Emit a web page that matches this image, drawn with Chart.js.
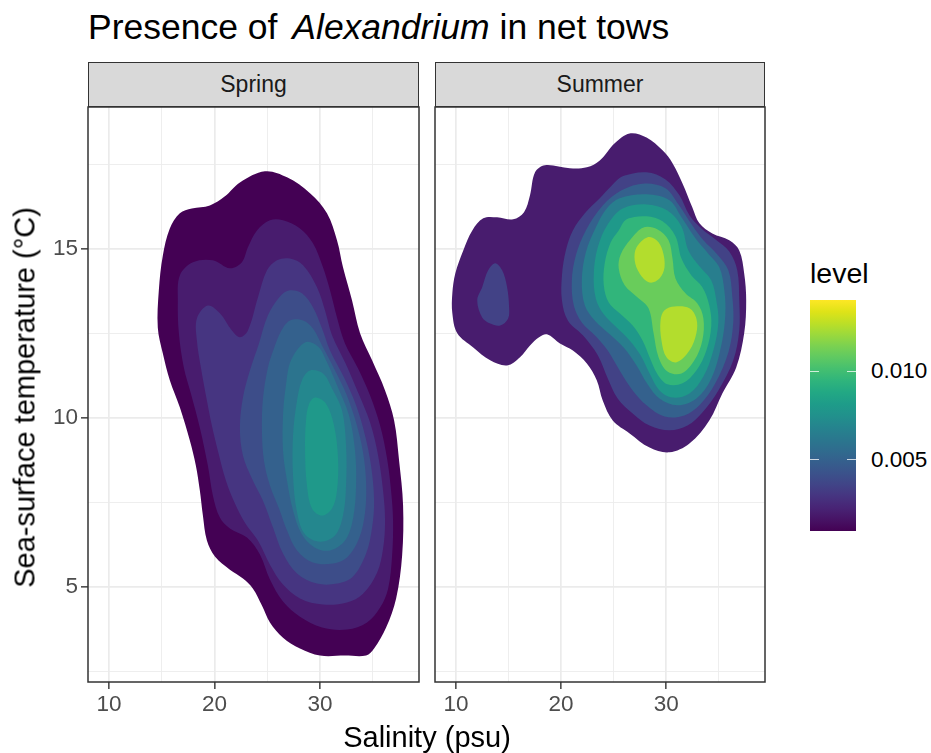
<!DOCTYPE html>
<html><head><meta charset="utf-8">
<script src="https://cdn.jsdelivr.net/npm/chart.js@4.4.1/dist/chart.umd.min.js"></script>
<style>
html,body{margin:0;padding:0;background:#fff;}
body{width:931px;height:753px;position:relative;overflow:hidden;font-family:"Liberation Sans",Arial,sans-serif;}
.abs{position:absolute;white-space:nowrap;}
.strip{position:absolute;top:62px;height:45px;background:#d9d9d9;border:1.5px solid #333;box-sizing:border-box;display:flex;align-items:center;justify-content:center;font-size:23px;color:#1a1a1a;}
</style></head><body>
<div class="abs" style="left:88px;top:9.9px;font-size:35.5px;line-height:35.5px;color:#000;">Presence of <i style="margin-left:5px">Alexandrium</i> in net tows</div>
<div class="strip" id="strip1" style="left:88px;width:331px;"></div>
<div class="strip" id="strip2" style="left:435px;width:330px;"></div>
<div class="abs" style="left:0;top:100px;width:430px;height:653px;"><canvas id="c1" width="430" height="653"></canvas></div>
<div class="abs" style="left:430px;top:100px;width:346px;height:653px;"><canvas id="c2" width="346" height="653"></canvas></div>
<div class="abs" style="left:-225px;top:383px;width:500px;text-align:center;font-size:29px;line-height:29px;color:#000;transform:rotate(-90deg);">Sea-surface temperature (°C)</div>
<div class="abs" style="left:177px;top:722.5px;width:500px;text-align:center;font-size:29px;line-height:29px;color:#000;">Salinity (psu)</div>
<div id="legend"></div>
<script>
// ---------------- data ----------------
const panelNames = ['Spring', 'Summer'];
const salinityGrid = [10, 15, 20, 25, 30, 35];
const salinityLabels = [10, 20, 30];
const tempGrid = [2.5, 5, 7.5, 10, 12.5, 15, 17.5];
const tempLabels = [5, 10, 15];
const legendTicks = [0.005, 0.010];
const legendTickText = ['0.005', '0.010'];
const LEGEND_MIN = 0.001, LEGEND_MAX = 0.014;

const springLevels = [0.001, 0.002, 0.003, 0.004, 0.005, 0.006, 0.007, 0.008];
const springContour1 = [[24.79,17.30],[26.88,17.12],[29.06,16.65],[30.67,16.06],[31.62,15.26],[32.19,14.46],[33.05,13.48],[33.81,12.51],[34.95,11.71],[36.18,10.82],[37.04,9.93],[37.51,8.75],[37.89,7.42],[37.80,5.94],[37.23,4.67],[36.28,3.81],[35.14,3.19],[34.38,2.98],[32.38,2.98],[30.01,2.98],[28.11,3.19],[26.50,3.51],[25.26,3.96],[24.50,4.46],[23.65,4.96],[22.70,5.26],[21.46,5.52],[20.04,5.91],[19.28,6.38],[18.90,7.12],[18.61,7.86],[18.23,8.60],[17.66,9.34],[16.71,10.32],[15.76,11.12],[15.10,11.91],[14.62,12.68],[14.72,13.78],[15.10,14.81],[15.76,15.61],[16.71,16.06],[17.85,16.20],[19.56,16.29],[20.99,16.56],[22.41,16.97]];
const springContour2 = [[16.71,14.22],[17.95,14.61],[19.85,14.67],[21.46,14.43],[22.60,14.61],[23.17,15.05],[24.03,15.55],[25.26,15.85],[26.50,15.85],[28.11,15.61],[29.34,15.17],[30.29,14.46],[30.96,13.78],[31.62,12.98],[32.38,12.21],[33.62,11.47],[34.76,10.67],[35.71,9.78],[36.37,8.81],[36.75,7.86],[36.94,6.97],[36.85,5.94],[36.47,4.96],[35.71,4.40],[34.47,3.96],[32.57,3.75],[30.20,3.81],[28.11,4.13],[26.50,4.58],[25.26,5.23],[24.31,5.97],[23.08,6.47],[21.46,6.74],[20.51,7.06],[19.85,7.71],[19.37,8.60],[18.61,9.72],[17.76,10.73],[17.09,11.50],[16.62,12.51],[16.52,13.48]];
const springContour3 = [[18.33,12.95],[19.37,13.33],[20.51,13.10],[21.65,12.59],[22.41,12.39],[23.17,12.59],[24.12,13.57],[24.98,14.37],[25.93,14.67],[27.16,14.72],[28.40,14.52],[29.72,13.87],[30.48,13.19],[31.15,12.45],[32.38,11.65],[33.62,10.76],[34.76,9.87],[35.52,8.90],[35.99,7.86],[36.18,6.97],[35.99,6.14],[35.42,5.43],[34.09,4.81],[32.57,4.55],[30.29,4.49],[28.11,4.67],[26.50,5.08],[25.26,5.67],[24.12,6.38],[22.89,6.91],[21.94,7.48],[21.08,8.16],[20.32,9.04],[19.75,9.78],[19.28,10.52],[18.71,11.50],[18.33,12.30]];
const springContour4 = [[26.21,13.60],[27.16,13.78],[28.30,13.69],[29.34,13.28],[30.20,12.65],[30.96,12.00],[32.29,11.20],[33.43,10.38],[34.28,9.49],[34.85,8.60],[35.14,7.56],[34.95,6.77],[34.38,6.00],[33.14,5.32],[31.62,5.11],[29.72,5.11],[27.83,5.41],[26.50,6.00],[25.55,6.77],[24.60,7.56],[23.55,8.22],[22.70,8.90],[22.41,9.72],[22.70,10.61],[23.36,11.41],[24.22,12.21],[25.07,13.04]];
const springContour5 = [[27.16,12.89],[28.40,12.89],[29.34,12.65],[30.20,12.15],[31.34,11.47],[32.48,10.73],[33.43,9.87],[34.09,8.99],[34.38,8.10],[34.28,7.21],[33.71,6.44],[32.57,5.88],[31.24,5.70],[29.34,5.73],[27.83,6.09],[26.88,6.68],[26.12,7.33],[25.26,8.01],[24.69,8.75],[24.50,9.64],[24.60,10.58],[25.07,11.50],[25.64,12.06],[26.31,12.57]];
const springContour6 = [[28.59,12.24],[29.82,12.12],[30.67,11.65],[31.62,10.97],[32.76,10.08],[33.33,9.04],[33.43,8.01],[33.14,7.03],[32.38,6.38],[30.96,6.09],[29.53,6.17],[28.30,6.56],[27.45,7.27],[26.88,8.16],[26.50,9.04],[26.50,10.08],[26.78,10.97],[27.26,11.71]];
const springContour7 = [[29.06,11.41],[30.29,11.32],[31.15,10.88],[32.10,10.23],[32.48,9.19],[32.48,8.01],[32.19,7.12],[31.43,6.53],[30.01,6.35],[28.59,6.56],[27.83,7.21],[27.45,8.30],[27.45,9.49],[27.83,10.52],[28.30,11.12]];
const springContour8 = [[29.53,10.61],[30.58,10.43],[31.34,9.78],[31.72,8.81],[31.62,7.86],[31.15,7.33],[30.20,7.12],[29.25,7.33],[28.77,8.01],[28.59,9.04],[28.68,9.93],[28.96,10.41]];

const summerLevels = [0.002, 0.0035, 0.005, 0.0065, 0.008, 0.0095, 0.011, 0.0125];
const summerContour1 = [[26.52,18.42],[28.13,18.30],[29.65,17.92],[30.60,17.54],[31.55,16.94],[32.49,16.23],[33.16,15.76],[34.39,15.46],[36.00,15.26],[36.95,14.96],[37.42,14.28],[37.61,13.48],[37.42,12.51],[36.66,11.50],[35.34,10.73],[34.10,9.93],[32.21,9.25],[30.31,8.99],[28.42,9.13],[26.52,9.55],[24.91,9.93],[23.96,10.52],[23.39,11.12],[22.45,11.62],[21.12,12.00],[19.89,12.21],[18.65,12.48],[17.90,12.39],[17.04,12.15],[16.09,11.80],[14.86,11.56],[13.25,11.71],[11.64,12.09],[10.12,12.51],[9.65,13.10],[9.65,13.69],[9.93,14.28],[10.69,14.96],[11.55,15.55],[12.59,15.91],[13.91,15.94],[15.43,15.88],[16.47,16.09],[17.04,16.59],[17.52,17.27],[18.46,17.48],[20.83,17.39],[22.45,17.42],[23.68,17.62],[25.10,18.13]];
const summerContour2 = [[25.86,17.15],[28.13,17.27],[29.93,17.06],[31.26,16.59],[32.21,16.00],[33.35,15.61],[34.67,15.29],[36.00,14.93],[36.76,14.37],[36.95,13.48],[36.95,12.59],[36.38,11.71],[34.96,10.82],[33.44,10.17],[32.02,9.78],[30.31,9.64],[28.42,9.78],[26.81,10.14],[25.38,10.58],[24.44,11.17],[23.49,11.86],[22.07,12.45],[20.64,12.89],[20.08,13.48],[20.08,14.22],[20.45,14.96],[21.12,15.55],[22.26,16.06],[23.68,16.50],[24.82,16.88]];
const summerContour2b = [[13.73,14.58],[14.39,14.37],[14.86,13.87],[15.05,13.28],[14.96,12.95],[14.20,12.74],[13.25,12.80],[12.49,12.98],[12.02,13.48],[12.49,13.87],[13.06,14.37]];
const summerContour3 = [[25.76,16.74],[27.94,16.94],[29.93,16.80],[31.17,16.32],[32.49,15.70],[33.54,15.26],[34.86,14.84],[35.91,14.37],[36.28,13.63],[36.38,12.83],[35.91,11.94],[34.67,11.03],[33.25,10.41],[31.73,10.08],[29.84,10.05],[28.13,10.38],[26.81,10.82],[25.57,11.41],[24.44,12.00],[23.30,12.42],[21.97,12.83],[21.21,13.33],[21.02,14.07],[21.40,14.81],[22.35,15.55],[23.96,16.29]];
const summerContour4 = [[25.57,16.50],[28.13,16.62],[30.31,16.44],[31.45,15.94],[32.78,15.32],[33.91,14.90],[35.05,14.46],[35.53,13.78],[35.62,13.04],[35.24,12.15],[34.29,11.17],[32.87,10.58],[31.07,10.38],[29.36,10.58],[28.23,11.00],[27.18,11.56],[25.95,12.09],[24.63,12.48],[23.20,12.89],[22.26,13.33],[21.97,14.07],[22.35,14.90],[23.30,15.64],[24.34,16.20]];
const summerContour5 = [[25.86,16.20],[28.13,16.32],[30.12,16.14],[31.45,15.67],[32.11,14.96],[33.16,14.49],[34.29,14.07],[34.77,13.48],[34.96,12.83],[34.48,12.00],[33.54,11.23],[32.21,10.73],[30.60,10.61],[29.36,10.82],[28.42,11.32],[27.56,11.86],[26.52,12.30],[25.29,12.68],[24.06,13.07],[23.30,13.54],[23.11,14.28],[23.49,15.05],[24.44,15.73]];
const summerContour6 = [[26.24,15.88],[28.13,15.97],[29.65,15.82],[30.88,15.38],[31.45,14.72],[32.40,14.22],[33.44,13.87],[34.10,13.33],[34.29,12.74],[33.82,12.00],[32.87,11.41],[31.55,11.03],[30.12,11.00],[29.18,11.29],[28.42,11.80],[27.75,12.30],[26.81,12.74],[25.57,13.10],[24.53,13.42],[24.06,13.93],[24.15,14.58],[24.72,15.20],[25.48,15.55]];
const summerContour7 = [[27.85,15.64],[29.18,15.58],[30.22,15.26],[30.60,14.72],[30.88,14.13],[31.83,13.69],[32.97,13.39],[33.54,12.95],[33.44,12.30],[32.68,11.71],[31.45,11.32],[30.12,11.38],[29.27,11.80],[28.80,12.51],[28.32,13.25],[27.28,13.57],[26.05,13.93],[25.48,14.43],[25.67,14.84],[26.62,15.29]];
const summerContour8a = [[28.23,15.35],[29.08,15.26],[29.65,14.96],[29.84,14.46],[29.36,14.13],[28.42,14.01],[27.47,14.28],[27.00,14.67],[27.18,15.05]];
const summerContour8b = [[30.79,13.30],[32.21,13.25],[32.87,12.95],[32.87,12.51],[32.21,12.00],[30.98,11.65],[30.03,11.80],[29.55,12.30],[29.46,12.89],[29.84,13.19]];

// ---------------- styling / build ----------------
const X_MIN = 8.0, X_MAX = 39.4, Y_MIN = 2.2, Y_MAX = 19.2;
const FONT = '"Liberation Sans", Arial, sans-serif';
const VIRIDIS = ['#440154','#471365','#482475','#463480','#414487','#3b528b','#355f8d','#2f6c8e','#2a788e','#25848e','#21918c','#1e9c89','#22a884','#2fb47c','#44bf70','#5ec962','#7ad151','#9bd93c','#bddf26','#dfe318','#fde725'];
function hexRgb(h){return [parseInt(h.slice(1,3),16),parseInt(h.slice(3,5),16),parseInt(h.slice(5,7),16)];}
function viridis(t){
  t = Math.max(0, Math.min(1, t));
  const f = t*(VIRIDIS.length-1); const i = Math.min(Math.floor(f), VIRIDIS.length-2); const u = f-i;
  const a = hexRgb(VIRIDIS[i]), b = hexRgb(VIRIDIS[i+1]);
  return 'rgb(' + a.map((v,k)=>Math.round(v+(b[k]-v)*u)).join(',') + ')';
}
function levelColor(v){ return viridis((v-LEGEND_MIN)/(LEGEND_MAX-LEGEND_MIN)); }

const springPolys = [
  [springLevels[0], springContour1],[springLevels[1], springContour2],[springLevels[2], springContour3],[springLevels[3], springContour4],
  [springLevels[4], springContour5],[springLevels[5], springContour6],[springLevels[6], springContour7],[springLevels[7], springContour8]];
const summerPolys = [
  [summerLevels[0], summerContour1],[summerLevels[1], summerContour2],[summerLevels[1], summerContour2b],[summerLevels[2], summerContour3],
  [summerLevels[3], summerContour4],[summerLevels[4], summerContour5],[summerLevels[5], summerContour6],[summerLevels[6], summerContour7],
  [summerLevels[7], summerContour8a],[summerLevels[7], summerContour8b]];

function makeDatasets(polys){
  const n = polys.length;
  return polys.map(([lvl, pts], i) => {
    const wrapped = pts.slice(-1).concat(pts, pts.slice(0, 2));
    return {
      data: wrapped.map(([x, y]) => ({x, y})),
      showLine: true, fill: 'shape', backgroundColor: levelColor(lvl),
      borderWidth: 0, borderColor: 'rgba(0,0,0,0)', pointRadius: 0, pointHoverRadius: 0,
      tension: 0.35, order: n - i
    };
  });
}

const panelBorder = {id: 'panelBorder', afterDatasetsDraw(chart){
  const {ctx, chartArea: a} = chart;
  ctx.save(); ctx.strokeStyle = '#333333'; ctx.lineWidth = 1.5;
  ctx.strokeRect(a.left, a.top, a.right - a.left, a.bottom - a.top); ctx.restore();
}};

function gridOpts(majors, showTicks){
  return {
    color: '#ebebeb',
    lineWidth: c => (c.tick && majors.includes(c.tick.value)) ? 1.7 : 0.85,
    drawTicks: showTicks, tickLength: 7, tickWidth: 1.4,
    tickColor: c => (c.tick && majors.includes(c.tick.value)) ? '#333333' : 'rgba(0,0,0,0)'
  };
}
function xScale(){
  return {
    type: 'linear', min: X_MIN, max: X_MAX,
    afterBuildTicks: s => { s.ticks = salinityGrid.map(v => ({value: v})); },
    afterFit: s => { s.height = 71; s.paddingLeft = 0; s.paddingRight = 0; },
    border: {display: false},
    grid: gridOpts(salinityLabels, true),
    ticks: {autoSkip: false, maxRotation: 0, minRotation: 0, padding: 2.5, color: '#4d4d4d',
      font: {family: FONT, size: 22.5}, callback: v => salinityLabels.includes(v) ? String(v) : ''}
  };
}
function yScale(showLabels){
  return {
    type: 'linear', min: Y_MIN, max: Y_MAX,
    afterBuildTicks: s => { s.ticks = tempGrid.map(v => ({value: v})); },
    afterFit: s => { s.width = showLabels ? 88 : 5; s.paddingTop = 0; s.paddingBottom = 0; },
    border: {display: false},
    grid: gridOpts(tempLabels, showLabels),
    ticks: {display: showLabels, autoSkip: false, padding: 3, color: '#4d4d4d',
      font: {family: FONT, size: 22.5}, callback: v => tempLabels.includes(v) ? String(v) : ''}
  };
}
function makeChart(id, polys, showY){
  return new Chart(document.getElementById(id), {
    type: 'scatter',
    data: {datasets: makeDatasets(polys)},
    options: {
      responsive: false, maintainAspectRatio: false, animation: false, events: [],
      layout: {padding: {top: 7, right: 11, left: 0, bottom: 0}},
      plugins: {legend: {display: false}, tooltip: {enabled: false}, title: {display: false}},
      scales: {x: xScale(), y: yScale(showY)}
    },
    plugins: [panelBorder]
  });
}
document.getElementById('strip1').textContent = panelNames[0];
document.getElementById('strip2').textContent = panelNames[1];
makeChart('c1', springPolys, true);
makeChart('c2', summerPolys, false);

// ---------------- colourbar legend ----------------
(function(){
  const BAR = {left: 810, top: 300, width: 46, height: 231};
  const lg = document.getElementById('legend');
  const stops = VIRIDIS.map((c, i) => c + ' ' + (i/(VIRIDIS.length-1)*100).toFixed(1) + '%').join(',');
  let html = '<div class="abs" style="left:810px;top:259px;font-size:28.5px;line-height:28.5px;color:#000;">level</div>';
  html += '<div class="abs" style="left:'+BAR.left+'px;top:'+BAR.top+'px;width:'+BAR.width+'px;height:'+BAR.height+'px;background:linear-gradient(to top,'+stops+');"></div>';
  legendTicks.forEach((v, i) => {
    const y = BAR.top + BAR.height - (v - LEGEND_MIN)/(LEGEND_MAX - LEGEND_MIN)*BAR.height;
    html += '<div class="abs" style="left:'+BAR.left+'px;top:'+(y-0.5)+'px;width:9px;height:1px;background:rgba(255,255,255,0.75);"></div>';
    html += '<div class="abs" style="left:'+(BAR.left+BAR.width-9)+'px;top:'+(y-0.5)+'px;width:9px;height:1px;background:rgba(255,255,255,0.75);"></div>';
    html += '<div class="abs" style="left:871px;top:'+(y-11)+'px;font-size:22.5px;line-height:22.5px;color:#000;">'+legendTickText[i]+'</div>';
  });
  lg.innerHTML = html;
})();
</script>
</body></html>
